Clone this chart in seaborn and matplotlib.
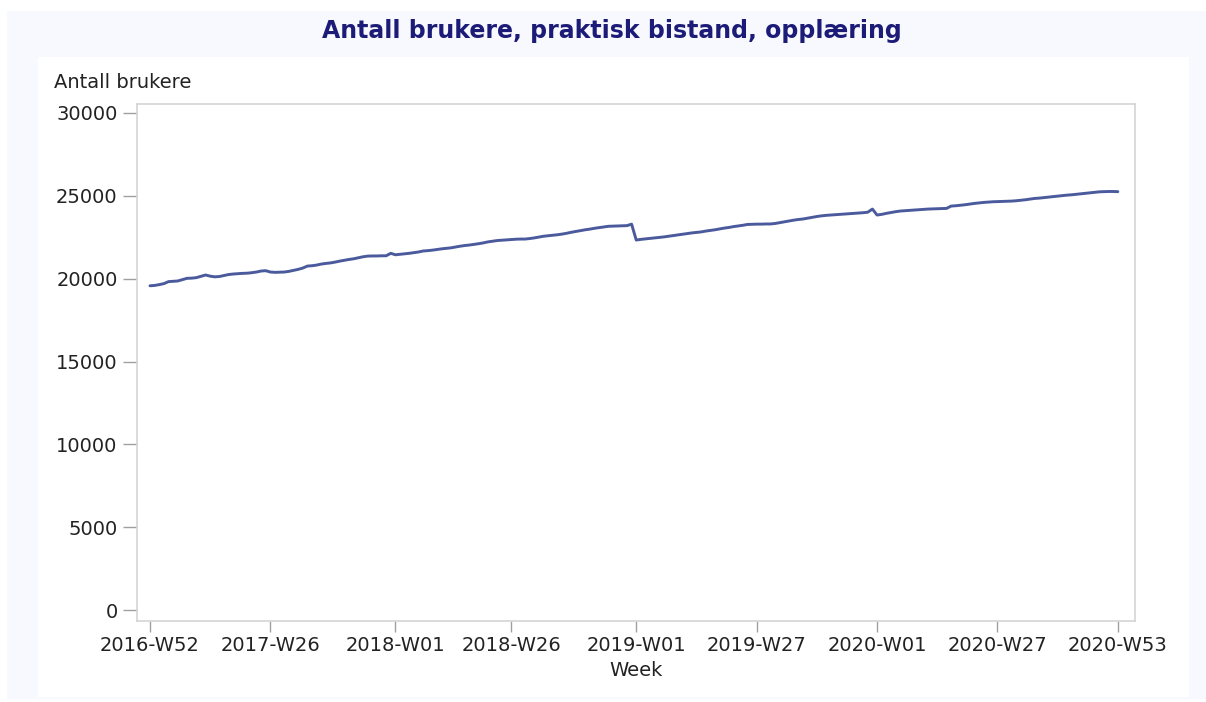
import numpy as np
import pandas as pd
import matplotlib
matplotlib.use("Agg")
import matplotlib.pyplot as plt
import seaborn as sns
from matplotlib.patches import Rectangle

# === DATA ===
FIRST_WEEK = "2016-12-26"  # monday of 2016-W52
TICK_LABELS = ["2016-W52", "2017-W26", "2018-W01", "2018-W26", "2019-W01",
               "2019-W27", "2020-W01", "2020-W27", "2020-W53"]
Y_TICKS = [0, 5000, 10000, 15000, 20000, 25000, 30000]

brukere = [
    19570, 19590, 19640, 19700, 19820, 19840, 19860, 19940, 20020, 20030,
    20060, 20140, 20220, 20150, 20110, 20130, 20190, 20250, 20280, 20300,
    20320, 20330, 20360, 20400, 20460, 20480, 20400, 20380, 20390, 20400,
    20440, 20500, 20560, 20640, 20760, 20780, 20820, 20880, 20920, 20950,
    21000, 21060, 21110, 21160, 21200, 21260, 21320, 21360, 21370, 21370,
    21380, 21380, 21530, 21440, 21470, 21500, 21530, 21570, 21610, 21670,
    21690, 21720, 21760, 21800, 21830, 21860, 21910, 21960, 22000, 22030,
    22070, 22110, 22160, 22220, 22260, 22300, 22320, 22340, 22360, 22380,
    22390, 22390, 22420, 22460, 22510, 22560, 22590, 22620, 22650, 22690,
    22740, 22800, 22850, 22900, 22950, 22990, 23040, 23080, 23120, 23160,
    23170, 23180, 23190, 23200, 23290,
    22330, 22370, 22400, 22430, 22460,
    22490, 22520, 22560, 22600, 22640, 22680, 22720, 22760, 22790, 22820,
    22870, 22910, 22950, 23000, 23050, 23090, 23140, 23180, 23220, 23270,
    23280, 23290, 23290, 23300, 23300, 23330, 23380, 23430, 23480, 23530,
    23570, 23600, 23650, 23700, 23750, 23790, 23820, 23840, 23860, 23880,
    23900, 23920, 23940, 23960, 23980, 24010, 24200,
    23840, 23880, 23940,
    23990, 24040, 24080, 24100, 24120, 24140, 24160, 24180, 24200, 24210,
    24220, 24230, 24240, 24380, 24400, 24430, 24460, 24500, 24540, 24570,
    24600, 24620, 24640, 24650, 24660, 24670, 24680, 24700, 24730, 24760,
    24800, 24840, 24860, 24890, 24920, 24950, 24980, 25010, 25040, 25060,
    25090, 25120, 25150, 25180, 25210, 25240, 25250, 25260, 25260, 25250,
]

# week labels like 2016-W52
mondays = pd.date_range(FIRST_WEEK, periods=len(brukere), freq="W-MON")
iso = mondays.isocalendar()
week_labels = [f"{y}-W{w:02d}" for y, w in zip(iso["year"], iso["week"])]

df = pd.DataFrame({"idx": np.arange(len(brukere)), "week": week_labels, "brukere": brukere})

# === STYLE ===
sns.set_theme(style="white")
plt.rcParams["font.family"] = ["DejaVu Sans"]

W, H = 1206, 702
fig = plt.figure(figsize=(W / 100, H / 100), dpi=100, facecolor="white")

# background panels (light outer, white inner) - keep behind the axes
fig.patches.append(Rectangle((7 / W, 1 - 699 / H), 1199 / W, 688 / H,
                             transform=fig.transFigure, facecolor="#f7f9fe",
                             edgecolor="none", zorder=-10))
fig.patches.append(Rectangle((38 / W, 1 - 697 / H), 1151 / W, 640 / H,
                             transform=fig.transFigure, facecolor="white",
                             edgecolor="none", zorder=-9))

ax = fig.add_axes([137 / W, 1 - 621 / H, 998 / W, 517 / H])
sns.lineplot(data=df, x="idx", y="brukere", ax=ax, color="#4a5a9c", linewidth=2.1)

ax.set_xlim(-2.8, 212.7)
ax.set_ylim(-660, 30540)

tick_pos = [df.index[df["week"] == t][0] for t in TICK_LABELS]
ax.set_xticks(tick_pos)
ax.set_xticklabels(TICK_LABELS)
ax.set_yticks(Y_TICKS)
ax.set_yticklabels([str(v) for v in Y_TICKS])

for s in ax.spines.values():
    s.set_color("#d4d4d4")
    s.set_linewidth(1.2)

ax.tick_params(axis="y", left=True, length=10, width=1.0, color="#a0a0a0",
               labelsize=14, labelcolor="#222222", pad=4)
ax.tick_params(axis="x", bottom=True, length=8, width=1.0, color="#a0a0a0",
               labelsize=14, labelcolor="#222222", pad=3)

ax.set_xlabel("Week", fontsize=14, color="#222222", labelpad=4)
ax.set_ylabel("")
fig.text(54 / W, 1 - 82 / H, "Antall brukere", fontsize=14, color="#222222",
         ha="left", va="center")

fig.text(612 / W, 1 - 31 / H, "Antall brukere, praktisk bistand, opplæring",
         fontsize=17, fontweight="bold", color="#1c1c78", ha="center", va="center")

fig.savefig("out.png", dpi=100, facecolor="white")
